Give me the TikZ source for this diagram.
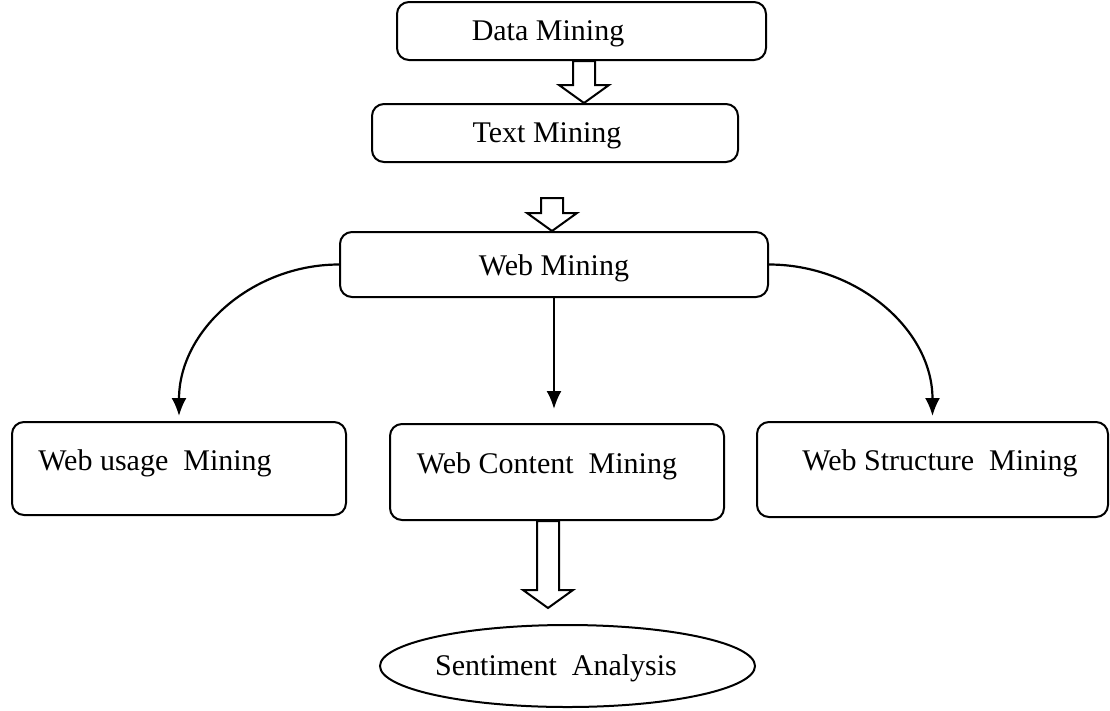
\documentclass[tikz,border=0pt]{standalone}
\usepackage{fontspec}
\setmainfont{Liberation Serif}
\usetikzlibrary{shapes.geometric,arrows.meta,calc}

% hollow block arrow from the top point #1 down to the tip #2
\newcommand\blockarrow[2]{%
  \draw[hollowarrow] let \p1=(#1), \p2=(#2) in
    (\x1-11pt,\y1) -- (\x1-11pt,\y2+18pt) -- (\x1-25pt,\y2+18pt) -- (\x2,\y2)
    -- (\x1+25pt,\y2+18pt) -- (\x1+11pt,\y2+18pt) -- (\x1+11pt,\y1) -- cycle;}

\begin{document}
\begin{tikzpicture}[x=1pt,y=-1pt,
  box/.style={draw,line width=2pt,rounded corners=12pt,inner sep=0pt},
  txt/.style={font=\fontsize{30}{36}\selectfont,inner sep=0pt},
  hollowarrow/.style={draw,line width=2pt,fill=white,line join=miter},
  flow/.style={line width=2.2pt,-{Latex[length=18pt,width=15pt]}}]
\useasboundingbox[fill=white] (0,0) rectangle (1110,710);

% boxes
\node[box,minimum width=369pt,minimum height=58pt] (dm) at (581.5,31) {};
\node[box,minimum width=366pt,minimum height=58pt] (tm) at (555,133) {};
\node[box,minimum width=428pt,minimum height=65pt] (wm) at (554,264.5) {};
\node[box,minimum width=334pt,minimum height=93pt] (wu) at (179,468.5) {};
\node[box,minimum width=334pt,minimum height=96pt] (wc) at (557,472) {};
\node[box,minimum width=351pt,minimum height=95pt] (ws) at (932.5,469.5) {};
\node[draw,ellipse,line width=2pt,inner sep=0pt,minimum width=375pt,minimum height=82pt] (sa) at (567.5,666) {};

% texts
\node[txt] (dmt) at (548,34) {Data Mining};
\node[txt] (tmt) at (547,136) {Text Mining};
\node[txt] (wmt) at (554,268) {Web Mining};
\node[txt] (wut) at (155,463) {Web usage\ \ Mining};
\node[txt] (wct) at (547,466) {Web Content\ \ Mining};
\node[txt] (wst) at (940,463) {Web Structure\ \ Mining};
\node[txt] (sat) at (556,668) {Sentiment\ \ Analysis};

% hollow arrows down the chain
\coordinate (a1) at (584,0);
\blockarrow{a1 |- dm.south}{a1 |- tm.north}
\coordinate (a2) at (552,198);
\blockarrow{a2}{a2 |- wm.north}
\coordinate (a3) at (548,608);
\blockarrow{a3 |- wc.south}{a3}

% branches of web mining
\draw[flow] (wm.west) to[out=180,in=90] ([yshift=5pt]wu.north);
\draw[flow] (wm.east) to[out=0,in=90] ([yshift=5pt]ws.north);
\draw[flow] (wm.south) -- ([yshift=14pt]wm.south |- wc.north);
\end{tikzpicture}
\end{document}
